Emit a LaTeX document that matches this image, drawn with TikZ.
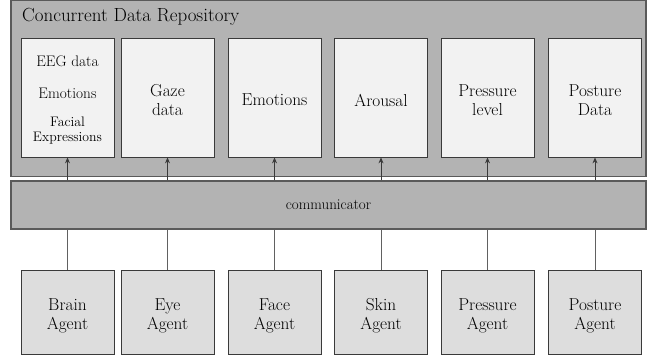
\documentclass[tikz,border=0pt]{standalone}
\usepackage{tikz}
\usetikzlibrary{arrows.meta, positioning}
\definecolor{repobg}{HTML}{B3B3B3}
\definecolor{repoframe}{HTML}{5A5A5A}
\definecolor{databg}{HTML}{F2F2F2}
\definecolor{agentbg}{HTML}{DDDDDD}
\definecolor{wire}{HTML}{3A3A3A}

\begin{document}
\begin{tikzpicture}[
  x=1pt, y=-1pt,
  repo/.style={rectangle, draw=repoframe, fill=repobg, line width=1.2pt,
               minimum width=635pt, inner sep=0pt},
  databox/.style={rectangle, draw=wire, fill=databg, line width=0.8pt,
                  minimum width=93pt, minimum height=119pt, inner sep=0pt},
  agentbox/.style={rectangle, draw=wire, fill=agentbg, line width=0.8pt,
                   minimum width=93pt, minimum height=84pt, inner sep=0pt},
  lbl/.style={inner sep=0pt, align=center,
              font=\fontsize{17.3}{19}\selectfont},
  uparr/.style={-{Stealth[length=6pt, width=5pt]}, line width=0.8pt, wire},
  link/.style={line width=0.8pt, wire!80},
]
\useasboundingbox (0,0) rectangle (653,358);

%% ── Repository and communicator ─────────────────────────────────────────────
\node[repo, minimum height=176pt] (Repo) at (328.5,88.5) {};
\node[lbl, anchor=base west, font=\fontsize{19}{21}\selectfont]
    (RepoTitle) at (22,22) {Concurrent Data Repository};
\node[repo, minimum height=48pt, font=\fontsize{15}{17}\selectfont]
    (Comm) at (328.5,205) {communicator};

%% ── Data boxes (top row) and agents (bottom row) ────────────────────────────
\foreach \i/\xx/\dtext/\atext in {
    1/67.5/{}/{Brain\\Agent},
    2/167.5/{Gaze\\data}/{Eye\\Agent},
    3/274.5/{Emotions}/{Face\\Agent},
    4/381/{Arousal}/{Skin\\Agent},
    5/487.5/{Pressure\\level}/{Pressure\\Agent},
    6/595/{Posture\\Data}/{Posture\\Agent}} {
  \node[databox]  (D\i) at (\xx,97.5) {};
  \node[lbl] (Dt\i) at ([yshift=-2.5pt]D\i.center) {\dtext};
  \node[agentbox] (A\i) at (\xx,312)  {};
  \node[lbl] (At\i) at ([yshift=-3.5pt]A\i.center) {\atext};
  \draw[uparr] (Comm.north -| D\i.south) -- (D\i.south);
  \draw[link]  (A\i.north) -- (Comm.south -| A\i.north);
}

%  first data box holds three stacked entries
\node[lbl, font=\fontsize{15.3}{18}\selectfont] (EEG) at (67.5,61) {EEG data};
\node[lbl, font=\fontsize{15.3}{18}\selectfont] (Emo) at (67.5,93) {Emotions};
\node[lbl, font=\fontsize{13.8}{15}\selectfont] (Face)
    at (67.5,131) {Facial\\Expressions};

\end{tikzpicture}
\end{document}
